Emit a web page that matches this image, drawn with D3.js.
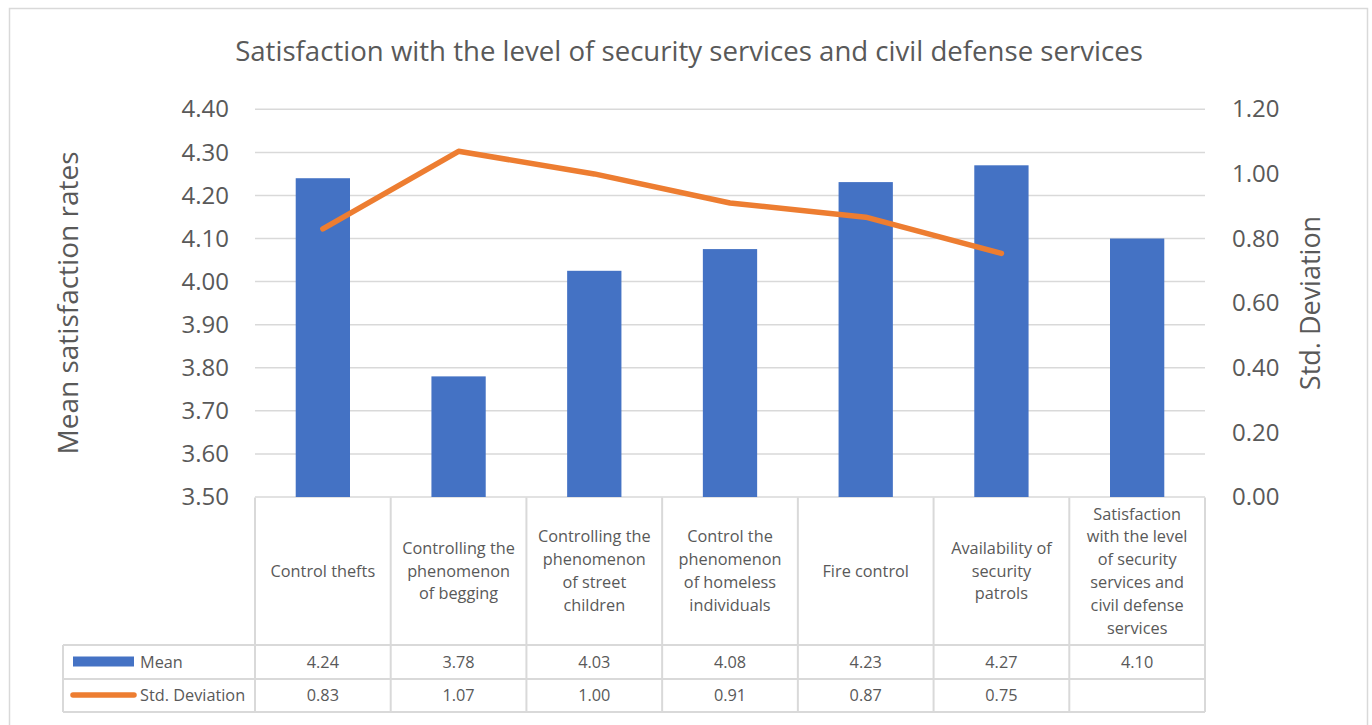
<!DOCTYPE html>
<html><head><meta charset="utf-8">
<script src="https://cdn.jsdelivr.net/npm/d3@7"></script>
<style>body{margin:0;background:#fff}svg{display:block}text{font-family:"Open Sans",sans-serif;fill:#595959}</style>
</head><body><svg id="c" width="1372" height="725"></svg>
<script>
const title = "Satisfaction with the level of security services and civil defense services";
const categories = ["Control thefts","Controlling the\nphenomenon\nof begging","Controlling the\nphenomenon\nof street\nchildren","Control the\nphenomenon\nof homeless\nindividuals","Fire control","Availability of\nsecurity\npatrols","Satisfaction\nwith the level\nof security\nservices and\ncivil defense\nservices"];
const meanValues = [4.24, 3.78, 4.0251, 4.0755, 4.231, 4.27, 4.10];
const stdValues = [0.83, 1.07, 1.00, 0.91, 0.866, 0.754, null];
const leftTicks = [3.5,3.6,3.7,3.8,3.9,4.0,4.1,4.2,4.3,4.4];
const rightTicks = [0,0.2,0.4,0.6,0.8,1.0,1.2];
const seriesNames = ["Mean","Std. Deviation"];

const svg = d3.select("#c");
const L = 255, R = 1205, T = 109.3, B = 497;
const blue = "#4472C4", orange = "#ED7D31", grid = "#d9d9d9";

svg.append("rect").attr("x",9.5).attr("y",8.5).attr("width",1358).attr("height",740)
  .attr("fill","none").attr("stroke",grid).attr("stroke-width",1.5);

const x = d3.scaleBand().domain(d3.range(categories.length)).range([L,R]).paddingInner(0.6).paddingOuter(0.3);
const xc = i => x(i) + x.bandwidth()/2;
const yL = d3.scaleLinear().domain([3.5,4.4]).range([B,T]);
const yR = d3.scaleLinear().domain([0,1.2]).range([B,T]);

// gridlines
svg.append("g").selectAll("line").data(leftTicks).join("line")
  .attr("x1",L).attr("x2",R).attr("y1",d=>yL(d)).attr("y2",d=>yL(d))
  .attr("stroke",grid).attr("stroke-width",1.5);

// left axis
const la = svg.append("g").attr("transform",`translate(${L},0)`)
  .call(d3.axisLeft(yL).tickValues(leftTicks).tickFormat(d3.format(".2f")).tickSize(0).tickPadding(26));
la.select(".domain").remove();
la.selectAll("text").attr("font-size",24).attr("fill","#595959").style("font-family","'Open Sans',sans-serif");

const ra = svg.append("g").attr("transform",`translate(${R},0)`)
  .call(d3.axisRight(yR).tickValues(rightTicks).tickFormat(d3.format(".2f")).tickSize(0).tickPadding(27));
ra.select(".domain").remove();
ra.selectAll("text").attr("font-size",24).attr("fill","#595959").style("font-family","'Open Sans',sans-serif");

// bars
svg.append("g").selectAll("rect").data(meanValues).join("rect")
  .attr("x",(d,i)=>x(i)).attr("width",x.bandwidth())
  .attr("y",d=>yL(d)).attr("height",d=>yL(3.5)-yL(d)).attr("fill",blue);

// line
const line = d3.line().defined(d=>d!=null).x((d,i)=>xc(i)).y(d=>yR(d));
svg.append("path").datum(stdValues).attr("d",line).attr("fill","none")
  .attr("stroke",orange).attr("stroke-width",5.5).attr("stroke-linecap","round").attr("stroke-linejoin","round");

// title
svg.append("text").attr("x",689).attr("y",61).attr("text-anchor","middle").attr("font-size",27.6).text(title);

// axis titles
svg.append("text").attr("transform","translate(78,303) rotate(-90)").attr("text-anchor","middle").attr("font-size",28).text("Mean satisfaction rates");
svg.append("text").attr("transform","translate(1320,303) rotate(-90)").attr("text-anchor","middle").attr("font-size",27).text("Std. Deviation");

// data table
const colW = (R-L)/categories.length;
const tT = 497.5, tH = 645, tM = 679, tB = 712, tL = 63;
const tg = svg.append("g").attr("stroke",grid).attr("stroke-width",2);
d3.range(categories.length+1).forEach(i=>{
  tg.append("line").attr("x1",L+i*colW).attr("x2",L+i*colW).attr("y1",tT).attr("y2",tB);
});
tg.append("line").attr("x1",tL).attr("x2",tL).attr("y1",tH).attr("y2",tB);
[tH,tM,tB].forEach(y=>tg.append("line").attr("x1",tL).attr("x2",R).attr("y1",y).attr("y2",y));

const fs = 16.3;
categories.forEach((c,i)=>{
  const lines = c.split("\n");
  const lh = 22.8, cy = 571;
  const t = svg.append("text").attr("text-anchor","middle").attr("font-size",fs).attr("fill","#404040");
  lines.forEach((ln,j)=>{
    t.append("tspan").attr("x",L+(i+0.5)*colW).attr("y",cy + (j-(lines.length-1)/2)*lh + 5.5).text(ln);
  });
});
const fmt = v => (Math.round(v*100+1e-6)/100).toFixed(2);
meanValues.forEach((v,i)=>{
  svg.append("text").attr("x",L+(i+0.5)*colW).attr("y",667.5).attr("text-anchor","middle").attr("font-size",fs).attr("fill","#404040").text(fmt(v));
});
stdValues.forEach((v,i)=>{
  if(v==null) return;
  svg.append("text").attr("x",L+(i+0.5)*colW).attr("y",700.5).attr("text-anchor","middle").attr("font-size",fs).attr("fill","#404040").text(fmt(v));
});
// legend keys
svg.append("rect").attr("x",73).attr("y",656.5).attr("width",61).attr("height",10).attr("fill",blue);
svg.append("line").attr("x1",73).attr("x2",134).attr("y1",695).attr("y2",695).attr("stroke",orange).attr("stroke-width",5.5).attr("stroke-linecap","round");
svg.append("text").attr("x",140).attr("y",667.5).attr("font-size",fs).attr("fill","#404040").text(seriesNames[0]);
svg.append("text").attr("x",140).attr("y",700.5).attr("font-size",fs).attr("fill","#404040").text(seriesNames[1]);
</script></body></html>
